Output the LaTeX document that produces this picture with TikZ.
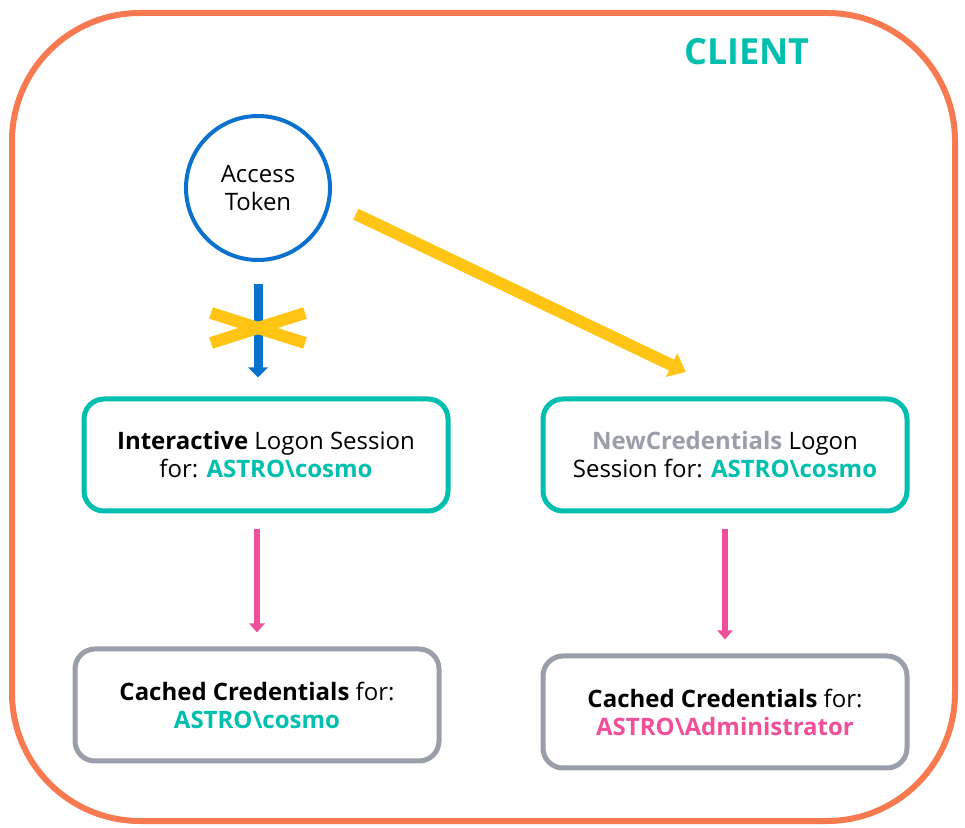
\documentclass[tikz,border=0pt]{standalone}
\usepackage{fontspec}
\setmainfont{Open Sans}
\usetikzlibrary{arrows.meta}
\definecolor{client-coral}{HTML}{F97A50}
\definecolor{token-blue}{HTML}{0A72CC}
\definecolor{warn-yellow}{HTML}{FFC414}
\definecolor{session-teal}{HTML}{00BFAE}
\definecolor{cache-gray}{HTML}{9A9EAB}
\definecolor{admin-pink}{HTML}{F0509A}

\begin{document}
\begin{tikzpicture}[x=0.5pt, y=-0.5pt,
        every node/.style={font=\fontsize{12}{14}\selectfont},
        session/.style={draw=session-teal, line width=2.5pt, fill=white, rounded corners=10pt,
            minimum width=182pt, minimum height=56pt, align=center},
        cache/.style={draw=cache-gray, line width=2.5pt, fill=white, rounded corners=10pt,
            minimum width=182pt, minimum height=56pt, align=center},
        pinkarrow/.style={-{Triangle[width=7.5pt, length=4.5pt]}, draw=admin-pink, line width=2.8pt,
            shorten <=8pt, shorten >=7pt}]
      \useasboundingbox (0,0) rectangle (965,828);
      % outer client frame
      \draw[client-coral, line width=3pt, rounded corners=64pt] (12,13) rectangle (955,821);
      \node[text=session-teal, font=\fontsize{18}{22}\selectfont\bfseries] (client) at (747,52) {CLIENT};
      \node[circle, draw=token-blue, line width=2pt, minimum size=72pt, align=center,
            inner sep=0pt] (token) at (258,188) {Access\\Token};
      \node[session] (interactive) at (266,455)
            {\textbf{Interactive} Logon Session\\for: \textbf{\textcolor{session-teal}{ASTRO\textbackslash cosmo}}};
      \node[session] (newcred) at (725,455)
            {\textbf{\textcolor{cache-gray}{NewCredentials}} Logon\\Session for: \textbf{\textcolor{session-teal}{ASTRO\textbackslash cosmo}}};
      \node[cache] (cachedleft) at (257,705)
            {\textbf{Cached Credentials} for:\\\textbf{\textcolor{session-teal}{ASTRO\textbackslash cosmo}}};
      \node[cache] (cachedright) at (725,712)
            {\textbf{Cached Credentials} for:\\\textbf{\textcolor{admin-pink}{ASTRO\textbackslash Administrator}}};
      % blocked path to the interactive session
      \draw[-{Triangle[width=9.5pt, length=5pt]}, token-blue, line width=4.5pt,
            shorten <=11pt, shorten >=9.5pt] (token.south) -- (interactive.north -| token.south);
      \coordinate (crossmid) at (258,328);
      \draw[warn-yellow, line width=6pt] (crossmid) ++(-47,-15) -- ++(94,30);
      \draw[warn-yellow, line width=6pt] (crossmid) ++(-47,15) -- ++(94,-30);
      % path to the new credentials session
      \coordinate (newtip) at (686,372);
      \draw[-{Triangle[width=12.5pt, length=8pt]}, warn-yellow, line width=6pt,
            shorten <=14pt] (token.-11) -- (newtip);
      \draw[pinkarrow] (interactive.south -| cachedleft.north) -- (cachedleft.north);
      \draw[pinkarrow] (newcred.south) -- (cachedright.north);
    \end{tikzpicture}
\end{document}
